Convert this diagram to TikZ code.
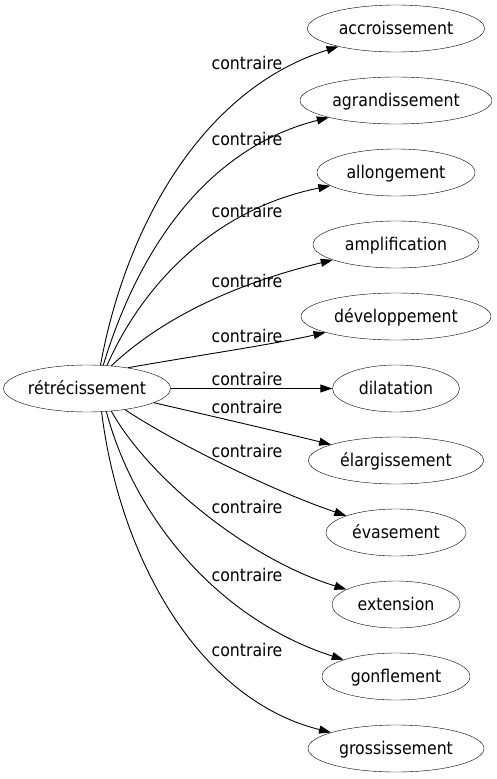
\documentclass[tikz,border=0pt]{standalone}
\usepackage{fontspec}
\setmainfont{DejaVu Sans Condensed}
\usetikzlibrary{shapes.geometric}
\usetikzlibrary{arrows.meta}

\tikzset{
  word/.style={draw, ellipse, inner sep=0pt, minimum height=47pt, text height=12pt, text depth=0pt},
  rel/.style={inner sep=0pt, text height=12pt, text depth=0pt},
  link/.style={-{Triangle[length=12pt,width=8pt]}, line width=0.9pt}
}

\begin{document}
\begin{tikzpicture}[x=1pt, y=-1pt, font=\fontsize{17.5}{20}\selectfont]
\useasboundingbox (0,0) rectangle (496,779);

% The word on the left
\node[word, minimum width=162pt] (retr) at (87,388.5) {rétrécissement};

% Its opposites, one above the other
\node[word, minimum width=177pt] (accr) at (396,28.5) {accroissement};
\node[word, minimum width=192pt] (agra) at (396,100.5) {agrandissement};
\node[word, minimum width=158pt] (allo) at (396,172.5) {allongement};
\node[word, minimum width=166pt] (ampl) at (396,244.5) {amplification};
\node[word, minimum width=190pt] (deve) at (396,316.5) {développement};
\node[word, minimum width=127pt] (dila) at (396,388.5) {dilatation};
\node[word, minimum width=175pt] (elar) at (396,460.5) {élargissement};
\node[word, minimum width=140pt] (evas) at (396,532.5) {évasement};
\node[word, minimum width=128pt] (exte) at (396,604.5) {extension};
\node[word, minimum width=148pt] (gonf) at (396,676.5) {gonflement};
\node[word, minimum width=176pt] (gros) at (396,748.5) {grossissement};

% Edge labels
\node[rel] (r1) at (247,63) {contraire};
\node[rel] (r2) at (247,139) {contraire};
\node[rel] (r3) at (247,211) {contraire};
\node[rel] (r4) at (247,281) {contraire};
\node[rel] (r5) at (247,336) {contraire};
\node[rel] (r6) at (247,379) {contraire};
\node[rel] (r7) at (247,407) {contraire};
\node[rel] (r8) at (247,451) {contraire};
\node[rel] (r9) at (247,507) {contraire};
\node[rel] (r10) at (247,575) {contraire};
\node[rel] (r11) at (247,650) {contraire};

% Edges going up
\draw[link] (retr.60) .. controls (125,230) and (200,90) .. (accr);
\draw[link] (retr.55) .. controls (135,260) and (200,150) .. (agra);
\draw[link] (retr.49) .. controls (140,290) and (210,210) .. (allo);
\draw[link] (retr.43) .. controls (160,320) and (230,285) .. (ampl);
\draw[link] (retr.27) .. controls (200,355) and (270,345) .. (deve);

% Straight edge
\draw[link] (retr) -- (dila);

% Edges going down
\draw[link] (retr.-12) .. controls (220,418) and (280,432) .. (elar);
\draw[link] (retr.-29) .. controls (170,440) and (270,490) .. (evas);
\draw[link] (retr.-43) .. controls (150,480) and (250,560) .. (exte);
\draw[link] (retr.-50) .. controls (135,520) and (220,620) .. (gonf);
\draw[link] (retr.-58) .. controls (120,560) and (200,700) .. (gros);

\end{tikzpicture}
\end{document}
